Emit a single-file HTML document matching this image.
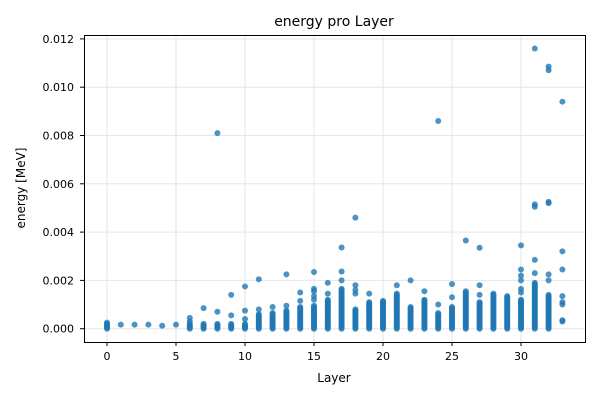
<!DOCTYPE html>
<html><head><meta charset="utf-8">
<style>
body{margin:0;background:#fff;}
svg{display:block;font-family:"DejaVu Sans","Liberation Sans",sans-serif;}
</style></head>
<body>
<svg id="chart" width="600" height="400">
<text x="334" y="26" font-size="14" text-anchor="middle" fill="#000">energy pro Layer</text>
<g id="grid"></g>
<g id="points"></g>
<rect x="84.5" y="35.5" width="501" height="307" fill="none" stroke="#000" stroke-width="1"/>
<g id="axes"></g>
<text x="334" y="382" font-size="12" text-anchor="middle">Layer</text>
<text transform="translate(25,188) rotate(-90)" font-size="12" text-anchor="middle">energy [MeV]</text>
</svg>
<script>
// values in units of 1e-3 MeV
const layers = [0,1,2,3,4,5,6,7,8,9,10,11,12,13,14,15,16,17,18,19,20,21,22,23,24,25,26,27,28,29,30,31,32,33];
const denseTop = [0.25,-1,-1,-1,-1,-1,0.2,0.2,0.2,0.2,0.2,0.6,0.65,0.75,0.9,0.95,1.2,1.65,0.83,1.1,1.15,1.45,0.9,1.2,0.65,0.9,1.55,1.1,1.45,1.35,1.2,1.9,1.4,-1];
const outliers = [
 [],[0.17],[0.17],[0.17],[0.12],[0.17],[0.3,0.45],[0.85],[0.7,8.1],[0.55,1.4],
 [0.4,0.75,1.75],[0.8,2.05],[0.9],[0.95,2.25],[1.15,1.5],[1.2,1.35,1.55,1.65,2.35],[1.45,1.9],[2.0,2.37,3.36],[1.45,1.6,1.8,4.6],[1.45],
 [],[1.8],[2.0],[1.55],[1.0,8.6],[1.3,1.85],[3.65],[1.4,1.8,3.35],[],[],
 [1.5,1.65,2.0,2.2,2.45,3.45],[2.3,2.85,5.05,5.15,11.6],[2.0,2.25,5.2,5.25,10.7,10.85],[0.3,0.35,1.0,1.1,1.35,2.45,3.2,9.4]
];
const xTicks = [0,5,10,15,20,25,30];
const yTicks = [0,2,4,6,8,10,12];
const yTickLabels = ["0.000","0.002","0.004","0.006","0.008","0.010","0.012"];

const NS="http://www.w3.org/2000/svg";
function xs(v){return 107+v*13.8;}
function ys(v){return 328.7-v*24.15;}
const grid=document.getElementById('grid'),axes=document.getElementById('axes'),pts=document.getElementById('points');
function mk(tag,attrs,parent){const e=document.createElementNS(NS,tag);for(const k in attrs)e.setAttribute(k,attrs[k]);parent.appendChild(e);return e;}
xTicks.forEach(t=>{
 const x=xs(t);
 const g=mk('line',{x1:x,x2:x,y1:35,y2:342,stroke:'#e6e6e6','stroke-width':1},grid);
 
 
 const tk=mk('line',{x1:x,x2:x,y1:342,y2:346,stroke:'#000'},axes);
 
 
 const tx=mk('text',{x:x,y:360,'font-size':11,'text-anchor':'middle'},axes);
 tx.textContent=t;
 
 
});
yTicks.forEach((t,i)=>{
 const y=ys(t);
 const g=mk('line',{x1:84,x2:585,y1:y,y2:y,stroke:'#e6e6e6','stroke-width':1},grid);
 
 
 const tk=mk('line',{x1:80,x2:84,y1:y,y2:y,stroke:'#000'},axes);
 
 
 const tx=mk('text',{x:74,y:y+4,'font-size':11,'text-anchor':'end'},axes);
 tx.textContent=yTickLabels[i];
 
 
});
function dot(l,v){
 const c=mk('circle',{cx:xs(l),cy:ys(v),r:3,fill:'#1f77b4','fill-opacity':0.8},pts);
 
 
}
layers.forEach((l,i)=>{
 const top=denseTop[i];
 if(top>=0){ for(let v=0;v<=top+1e-9;v+=0.05) dot(l,v); }
 outliers[i].forEach(v=>dot(l,v));
});
</script>
</body></html>
